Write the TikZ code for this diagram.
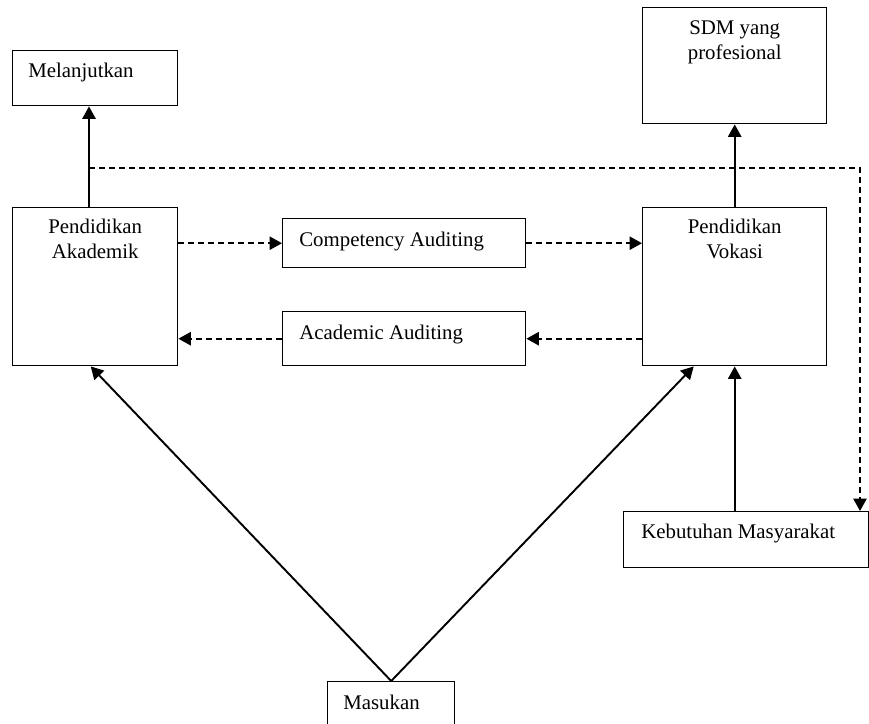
\documentclass[tikz,border=0pt]{standalone}
\usepackage{fontspec}
\setmainfont{Liberation Serif}
\usetikzlibrary{arrows.meta,positioning}
\begin{document}
\begin{tikzpicture}[x=0.6pt,y=-0.6pt,
  kotak/.style={draw, line width=0.85pt, inner sep=0pt, anchor=north west},
  teks/.style={inner sep=0pt, font=\fontsize{12.5}{15}\selectfont},
  panah/.style={-{Triangle[length=7.5pt,width=8pt]}, line width=1.15pt},
  putus/.style={panah, dash pattern=on 3.6pt off 2.4pt}]
  \useasboundingbox (0,0) rectangle (869,724);
  \clip (0,0) rectangle (869,724);
  % kotak-kotak
  \node[kotak, minimum width=99pt, minimum height=33pt] (lanjut) at (12,50) {};
  \node[kotak, minimum width=110.4pt, minimum height=69.6pt] (sdm) at (642,7) {};
  \node[kotak, minimum width=99pt, minimum height=94.8pt] (akad) at (12,207) {};
  \node[kotak, minimum width=110.4pt, minimum height=94.8pt] (voka) at (642,207) {};
  \node[kotak, minimum width=145.8pt, minimum height=29.4pt] (komp) at (282,218) {};
  \node[kotak, minimum width=145.8pt, minimum height=32.4pt] (akaud) at (282,311) {};
  \node[kotak, minimum width=147pt, minimum height=33.6pt] (butuh) at (623,511) {};
  \node[kotak, minimum width=76.2pt, minimum height=42pt] (masuk) at (327,681) {};
  % teks
  \node[teks, below right=7.5pt and 9.6pt of lanjut.north west] (lanjut-t) {Melanjutkan};
  \node[teks, align=center, below=7.8pt of sdm.north] (sdm-t) {SDM yang\\profesional};
  \node[teks, align=center, below=7.2pt of akad.north] (akad-t) {Pendidikan\\Akademik};
  \node[teks, align=center, below=7.2pt of voka.north] (voka-t) {Pendidikan\\Vokasi};
  \node[teks, below right=8.1pt and 10.2pt of komp.north west] (komp-t) {Competency Auditing};
  \node[teks, below right=8.1pt and 10.2pt of akaud.north west] (akaud-t) {Academic Auditing};
  \node[teks, below right=7.5pt and 10.8pt of butuh.north west] (butuh-t) {Kebutuhan Masyarakat};
  \node[teks, below right=8.1pt and 9.6pt of masuk.north west] (masuk-t) {Masukan};
  % panah
  \coordinate (cabang) at (89,168);
  \coordinate (sudut) at (860,168);
  \draw[panah] (cabang |- akad.north) -- (cabang |- lanjut.south);
  \draw[panah] (voka.north) -- (sdm.south);
  \draw[putus] (cabang) -- (sudut) -- (sudut |- butuh.north);
  \draw[putus] (akad.east |- komp.west) -- (komp.west);
  \draw[putus] (komp.east) -- (voka.west |- komp.east);
  \draw[putus] (voka.west |- akaud.east) -- (akaud.east);
  \draw[putus] (akaud.west) -- (akad.east |- akaud.west);
  \draw[panah] (masuk.north) -- ([xshift=-2.7pt]akad.south);
  \draw[panah] (masuk.north) -- ([xshift=-24.6pt]voka.south);
  \draw[panah] (voka.south |- butuh.north) -- (voka.south);
\end{tikzpicture}
\end{document}
